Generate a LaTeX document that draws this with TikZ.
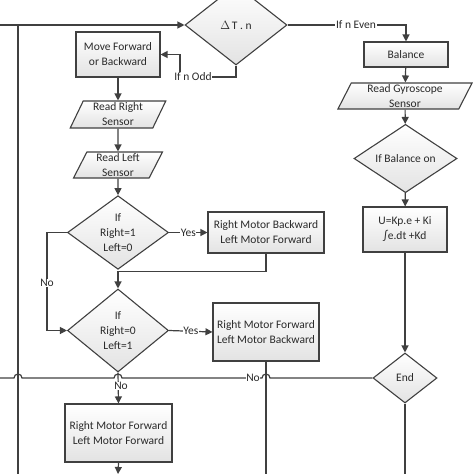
\documentclass[tikz,border=0pt]{standalone}
\usepackage{fontspec}
\setmainfont{Carlito}
\usetikzlibrary{arrows.meta,shapes.geometric}
\definecolor{linec}{HTML}{404040}
\definecolor{textc}{HTML}{2a2a2a}
\begin{document}
\begin{tikzpicture}[x=1pt,y=-1pt,
  font=\fontsize{11.5}{15}\selectfont,
  base/.style={draw=linec, line width=1.1pt, top color=white, bottom color=black!11, text=textc, align=center, inner sep=1pt},
  box/.style={base, rectangle},
  dia/.style={base, diamond, inner sep=0pt},
  io/.style={base, trapezium, trapezium left angle=68, trapezium right angle=112, trapezium stretches=true, inner sep=0pt},
  line/.style={draw=linec, line width=1.2pt},
  arr/.style={line, -{Triangle[length=7pt,width=7pt]}},
  lbl/.style={fill=white, text=textc, inner sep=0.6pt}
]
\useasboundingbox (0,0) rectangle (474,474);
\clip (0,0) rectangle (474,474);

% nodes
\node[dia, minimum width=102pt, minimum height=80pt] (dT) at (236,25) {$\Delta$\,T . n};
\node[box, minimum width=84pt, minimum height=45pt] (mfb) at (118,54.5) {Move Forward\\or Backward};
\node[io, minimum width=96pt, minimum height=27pt] (rrs) at (118,114.5) {Read Right\\Sensor};
\node[io, minimum width=89pt, minimum height=26pt] (rls) at (118,165) {Read Left\\Sensor};
\node[dia, minimum width=101pt, minimum height=61pt] (d1) at (118,232.5) {If\\Right=1\\Left=0};
\node[box, minimum width=116pt, minimum height=41pt] (b1) at (266,232.5) {Right Motor Backward\\Left Motor Forward};
\node[dia, minimum width=101pt, minimum height=83pt] (d2) at (118,330.5) {If\\Right=0\\Left=1};
\node[box, minimum width=106pt, minimum height=58pt] (b2) at (266,332) {Right Motor Forward\\Left Motor Backward};
\node[box, minimum width=107pt, minimum height=58pt] (b3) at (118.5,433) {Right Motor Forward\\Left Motor Forward};
\node[box, minimum width=84pt, minimum height=25pt] (bal) at (406,54.5) {Balance};
\node[io, minimum width=135pt, minimum height=26pt] (gyro) at (405,96) {Read Gyroscope\\Sensor};
\node[dia, minimum width=103pt, minimum height=45pt] (dbal) at (405.5,158.5) {If Balance on};
\node[box, minimum width=84pt, minimum height=45pt] (pid) at (405,229.5) {U=Kp.e + Ki\\{\large∫}e.dt +Kd};
\node[dia, minimum width=64pt, minimum height=50pt] (end) at (405,378) {End};

% free ends
\coordinate (inL) at (-5,25);
\coordinate (jL) at (18,25);
\coordinate (botL) at (18,480);
\coordinate (outL) at (-5,378);
\coordinate (b3out) at (118,474);
\coordinate (b2out) at (266,480);
\coordinate (endout) at (405,480);

% connectors
\draw[arr] (inL) -- (dT.west);
\draw[line] (jL) -- (botL);
\draw[arr] (dT.south) |- (180,77) |- (mfb.east);
\node[lbl] (lodd) at (193,77) {If n Odd};
\draw[arr] (dT.east) -| (bal.north);
\node[lbl] (leven) at (356,25) {If n Even};
\draw[arr] (bal) -- (gyro);
\draw[arr] (gyro) -- (dbal);
\draw[arr] (dbal) -- (pid);
\draw[arr] (pid) -- (end);
\draw[arr] (mfb) -- (rrs);
\draw[arr] (rrs) -- (rls);
\draw[arr] (rls) -- (d1);
\draw[arr] (d1.east) -- node[lbl] (lyes1) {Yes} (b1.west);
\draw[arr] (b1.south) -- ++(0,18) -| (d2.north);
\draw[arr] (d1.west) -- ++(-20,0) |- (d2.west);
\node[lbl] (lno1) at (47,283) {No};
\draw[arr] (d2.east) -- node[lbl] (lyes2) {Yes} (b2.west);
\draw[arr] (d2.south) -- (b3.north);
\node[lbl] (lno2) at (121,386) {No};
\draw[arr] (b3.south) -- (b3out);
\draw[line] (b2.south) -- (b2out);
\draw[line] (end.south) -- (endout);
\draw[line] (end.west) -- (270,378) arc[start angle=0, end angle=180, radius=4pt]
  -- (122,378) arc[start angle=0, end angle=180, radius=4pt]
  -- (22,378) arc[start angle=0, end angle=180, radius=4pt] -- (outL);
\node[lbl] (lno3) at (253,378) {No};
\end{tikzpicture}
\end{document}
